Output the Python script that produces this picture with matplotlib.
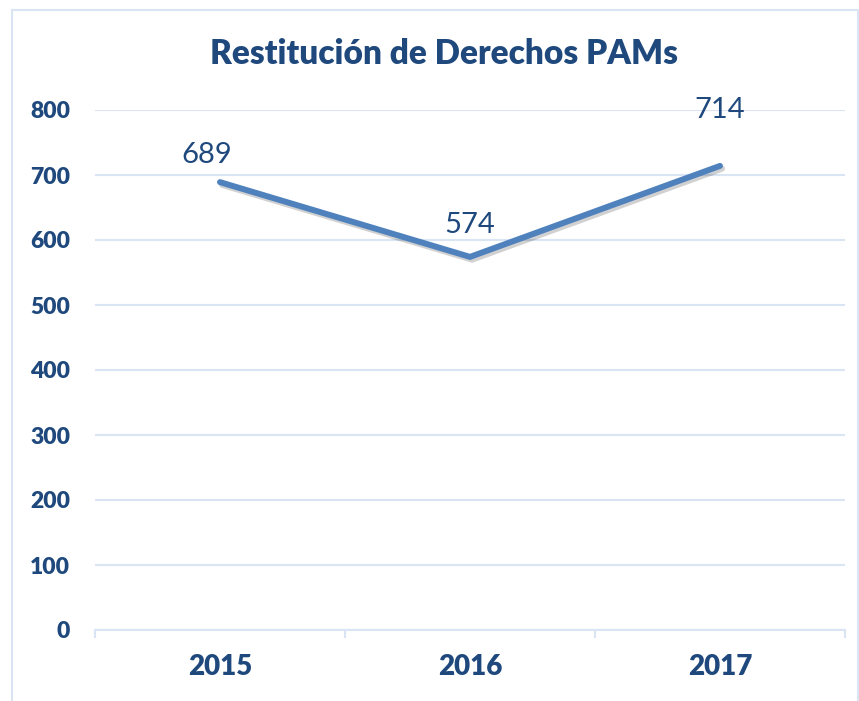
import matplotlib
matplotlib.use("Agg")
import matplotlib.pyplot as plt
import matplotlib.patheffects as pe
from matplotlib.patches import Rectangle

categories = ["2015", "2016", "2017"]
values = [689, 574, 714]
yticks = [0, 100, 200, 300, 400, 500, 600, 700, 800]
title = "Restitución de Derechos PAMs"

W, H = 859, 701
DPI = 100
text_color = "#1F497D"
line_color = "#4F81BD"
grid_color = "#D9E5F5"
font = "Lato"

fig = plt.figure(figsize=(W / DPI, H / DPI), dpi=DPI)
fig.patch.set_facecolor("white")

# chart border
fig.patches.append(Rectangle((12 / W, -0.05), (858 - 12) / W, (H - 10) / H + 0.05,
                             transform=fig.transFigure, fill=False,
                             edgecolor=grid_color, linewidth=1.5))

left, right, top, bottom = 95, 845, 110, 630
ax = fig.add_axes([left / W, (H - bottom) / H, (right - left) / W, (bottom - top) / H])

x = list(range(len(categories)))
ax.plot(x, values, color=line_color, linewidth=4.3, solid_capstyle="round",
        solid_joinstyle="miter",
        path_effects=[pe.SimpleLineShadow(offset=(1.5, -2), shadow_color="black", alpha=0.18),
                      pe.Normal()], zorder=3)

ax.set_xlim(-0.5, len(categories) - 0.5)
ax.set_ylim(0, 800)
ax.set_yticks(yticks)
ax.set_yticklabels([str(v) for v in yticks], fontfamily=font, fontweight="heavy",
                   fontsize=16.5, color=text_color)
ax.set_xticks(x)
ax.set_xticklabels(categories, fontfamily=font, fontweight="heavy", fontsize=20,
                   color=text_color)
ax.tick_params(axis="y", length=0, pad=18)
ax.tick_params(axis="x", which="major", length=0, pad=17)
ax.set_xticks([i - 0.5 for i in range(len(categories) + 1)], minor=True)
ax.tick_params(axis="x", which="minor", length=6, width=1.5, color=grid_color, direction="out")

ax.grid(axis="y", color=grid_color, linewidth=1.5)
ax.set_axisbelow(True)
for s in ["top", "right", "left"]:
    ax.spines[s].set_visible(False)
ax.spines["bottom"].set_color(grid_color)
ax.spines["bottom"].set_linewidth(1.5)

offsets = [(-13, 27), (0, 32), (0, 56)]
for xi, v, (dx, dy) in zip(x, values, offsets):
    ax.annotate(str(v), (xi, v), xytext=(dx * 72 / DPI, dy * 72 / DPI),
                textcoords="offset points", ha="center", va="center",
                fontfamily=font, fontsize=21, color=text_color)

fig.text(444 / W, 1 - 54 / H, title, ha="center", va="center", fontfamily=font,
         fontweight="heavy", fontsize=24, color=text_color)

fig.savefig("out.png", dpi=DPI, facecolor="white")
